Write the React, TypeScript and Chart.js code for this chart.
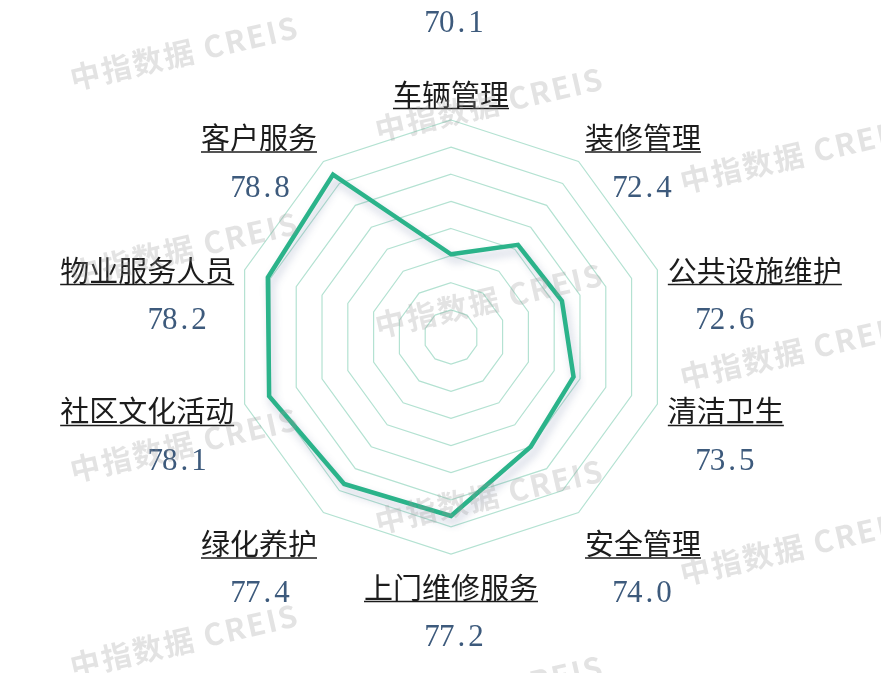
import React, { useEffect, useRef } from 'react';
import { Chart, registerables } from 'chart.js';

Chart.register(...registerables);

// ---- data ----
const categories = [
  '车辆管理',
  '装修管理',
  '公共设施维护',
  '清洁卫生',
  '安全管理',
  '上门维修服务',
  '绿化养护',
  '社区文化活动',
  '物业服务人员',
  '客户服务',
];
const scores = [70.1, 72.4, 72.6, 73.5, 74.0, 77.2, 77.4, 78.1, 78.2, 78.8];
const scaleMin = 64;
const scaleMax = 80;
const scaleStep = 2;
const watermarkText = '中指数据 CREIS';

// ---- styles ----
const W = 881;
const H = 673;
const LINE_COLOR = '#2bb38a';
const GRID_COLOR = '#b4e2d2';
const LABEL_COLOR = '#1c1c1c';
const VALUE_COLOR = '#3d5a7c';
const LABEL_FONT = '29px "Noto Sans CJK SC", sans-serif';
const VALUE_FONT = '31px "Liberation Serif", serif';
const WM_FONT = 'bold 30px "Noto Sans CJK SC", sans-serif';

function drawMono(ctx: CanvasRenderingContext2D, text: string, cx: number, baseline: number) {
  const cell = 14.6;
  const total = cell * text.length;
  let x = cx - total / 2;
  ctx.font = VALUE_FONT;
  ctx.fillStyle = VALUE_COLOR;
  ctx.textAlign = 'center';
  ctx.textBaseline = 'alphabetic';
  for (const ch of text) {
    ctx.fillText(ch, x + cell / 2, baseline);
    x += cell;
  }
}

const shadowPlugin = {
  id: 'lineShadow',
  beforeDatasetsDraw(chart: any) {
    const ctx = chart.ctx;
    ctx.save();
    ctx.shadowColor = 'rgba(70, 90, 140, 0.30)';
    ctx.shadowBlur = 9;
    ctx.shadowOffsetX = 3;
    ctx.shadowOffsetY = 6;
  },
  afterDatasetsDraw(chart: any) {
    chart.ctx.restore();
  },
};

const labelPlugin = {
  id: 'customPointLabels',
  afterDraw(chart: any) {
    const scale = chart.scales.r;
    const ctx: CanvasRenderingContext2D = chart.ctx;
    const n = categories.length;
    ctx.save();
    for (let i = 0; i < n; i++) {
      const p = scale.getPointPosition(i, scale.drawingArea + 11);
      const a = (i * 360) / n;
      ctx.font = LABEL_FONT;
      const w = ctx.measureText(categories[i]).width;
      const align = a === 0 || a === 180 ? 'center' : a < 180 ? 'left' : 'right';
      const left = align === 'center' ? p.x - w / 2 : align === 'left' ? p.x : p.x - w;
      const boxH = 37;
      let boxTop: number;
      if (a <= 45 || a >= 315) boxTop = p.y - boxH;
      else if (a >= 135 && a <= 225) boxTop = p.y;
      else boxTop = p.y - boxH / 2;
      const textTop = boxTop + 10;
      ctx.fillStyle = LABEL_COLOR;
      ctx.textAlign = 'left';
      ctx.textBaseline = 'middle';
      ctx.fillText(categories[i], left, textTop + 12.5);
      ctx.strokeStyle = LABEL_COLOR;
      ctx.lineWidth = 1.5;
      ctx.beginPath();
      ctx.moveTo(left, textTop + 26.5);
      ctx.lineTo(left + w, textTop + 26.5);
      ctx.stroke();
      const vx = align === 'center' ? p.x + 3 : align === 'left' ? p.x + 57 : p.x - 57;
      const vy = a === 0 ? textTop - 50 : textTop + 71;
      drawMono(ctx, scores[i].toFixed(1), vx, vy);
    }
    ctx.restore();

    // watermark
    ctx.save();
    ctx.font = WM_FONT;
    ctx.fillStyle = 'rgba(150, 150, 150, 0.27)';
    ctx.textAlign = 'left';
    ctx.textBaseline = 'alphabetic';
    try {
      (ctx as any).letterSpacing = '2px';
    } catch (e) {}
    for (let c = 0; c < 3; c++) {
      for (let r = -1; r < 4; r++) {
        const x = 73 + 305 * c;
        const y = 90 + 51.5 * c + 196 * r;
        ctx.save();
        ctx.translate(x, y);
        ctx.rotate((-13 * Math.PI) / 180);
        ctx.fillText(watermarkText, 0, 0);
        ctx.restore();
      }
    }
    ctx.restore();
  },
};

export default function App() {
  const ref = useRef<HTMLCanvasElement | null>(null);
  useEffect(() => {
    if (!ref.current) return;
    const chart = new Chart(ref.current, {
      type: 'radar',
      data: {
        labels: categories,
        datasets: [
          {
            data: scores,
            borderColor: LINE_COLOR,
            backgroundColor: 'rgba(0,0,0,0)',
            borderWidth: 4.5,
            borderJoinStyle: 'miter',
            pointRadius: 0,
            pointHoverRadius: 0,
            fill: false,
            tension: 0,
          },
        ],
      },
      options: {
        animation: false,
        responsive: false,
        events: [],
        layout: { padding: { left: 234, right: 213, top: 120, bottom: 119 } },
        plugins: { legend: { display: false }, tooltip: { enabled: false } },
        scales: {
          r: {
            min: scaleMin,
            max: scaleMax,
            ticks: { display: false, stepSize: scaleStep },
            grid: { color: GRID_COLOR, lineWidth: 1.2 },
            angleLines: { display: false },
            pointLabels: { display: false },
          },
        },
      },
      plugins: [shadowPlugin, labelPlugin],
    });
    return () => chart.destroy();
  }, []);
  return (
    <div style={{ position: 'absolute', left: 0, top: 0, width: W, height: H, background: '#fff' }}>
      <canvas ref={ref} width={W} height={H} style={{ display: 'block' }} />
    </div>
  );
}
